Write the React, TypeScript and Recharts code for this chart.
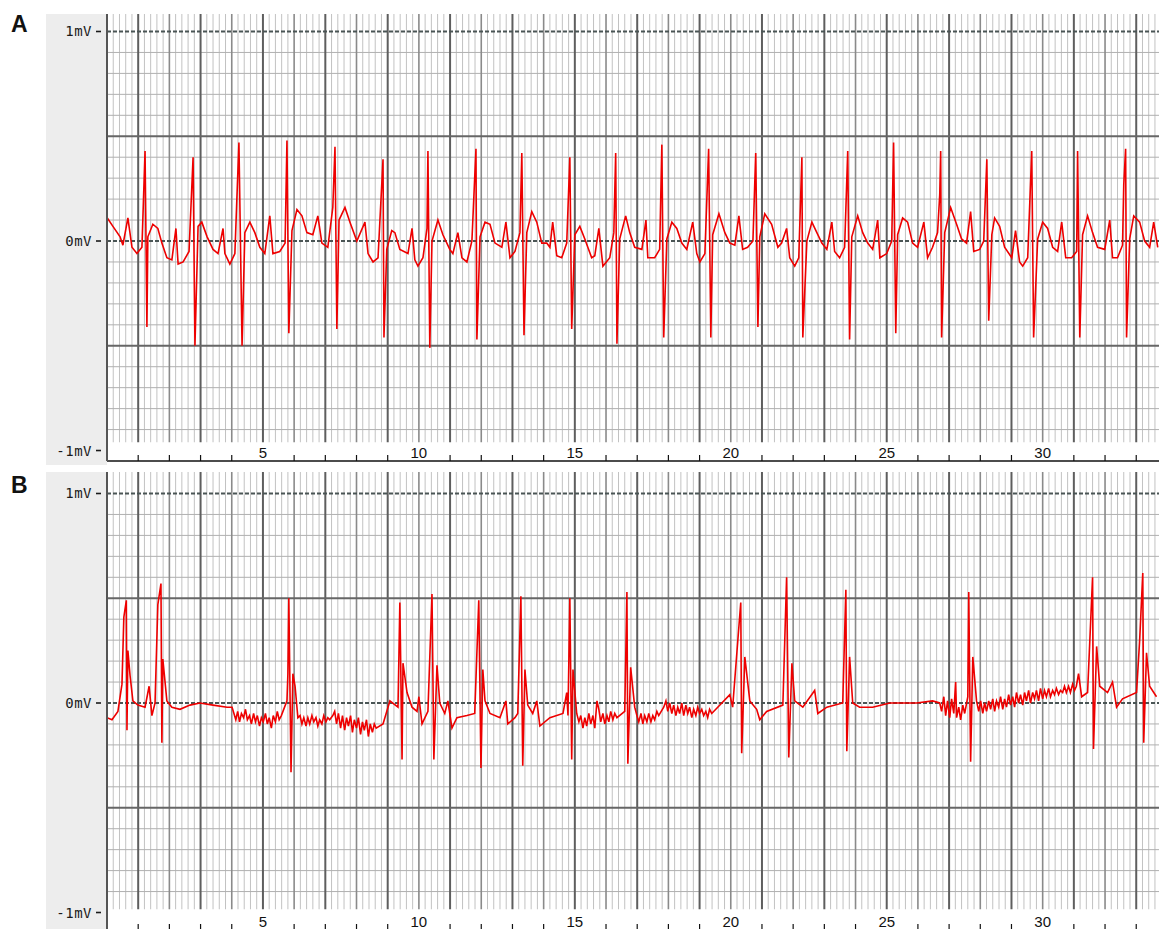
import { LineChart, Line, XAxis, YAxis, CartesianGrid, ReferenceArea } from 'recharts';

// time (s) and amplitude (mV)
const ecgA: [number, number][] = [
  [0.01, 0.11], [0.19, 0.07], [0.42, 0.02], [0.51, -0.02], [0.67, 0.11], [0.8, -0.03], [0.96, -0.06], [1.12, -0.03],
  [1.22, 0.43], [1.28, -0.41], [1.31, 0.02], [1.47, 0.08], [1.63, 0.06], [1.76, -0.01], [1.92, -0.08], [2.08, -0.09],
  [2.21, 0.06], [2.28, -0.11], [2.44, -0.1], [2.63, -0.05], [2.76, 0.4], [2.82, -0.5], [2.92, 0.07], [3.04, 0.09],
  [3.21, 0.02], [3.4, -0.04], [3.56, -0.06], [3.72, 0.06], [3.78, -0.06], [3.94, -0.11], [4.1, -0.06], [4.23, 0.47],
  [4.33, -0.5], [4.42, 0.04], [4.58, 0.09], [4.74, 0.04], [4.9, -0.03], [5.06, -0.06], [5.22, 0.12], [5.32, -0.06],
  [5.54, -0.05], [5.71, -0.01], [5.77, 0.48], [5.83, -0.44], [5.93, 0.05], [6.09, 0.15], [6.25, 0.12], [6.41, 0.04],
  [6.6, 0.03], [6.76, 0.12], [6.89, -0.01], [7.08, -0.03], [7.24, 0.16], [7.31, 0.45], [7.37, -0.42], [7.44, 0.1],
  [7.63, 0.16], [7.79, 0.09], [8.01, 0.0], [8.27, 0.09], [8.37, -0.06], [8.53, -0.1], [8.69, -0.08], [8.85, 0.39],
  [8.88, -0.46], [8.97, -0.04], [9.13, 0.05], [9.23, 0.04], [9.39, -0.04], [9.65, -0.06], [9.78, 0.06], [9.87, -0.09],
  [9.97, -0.12], [10.13, -0.08], [10.26, 0.06], [10.29, 0.43], [10.35, -0.51], [10.42, 0.0], [10.61, 0.1], [10.77, 0.03],
  [10.99, -0.04], [11.09, -0.06], [11.25, 0.04], [11.38, -0.08], [11.54, -0.1], [11.7, 0.0], [11.83, 0.44], [11.86, -0.47],
  [11.96, 0.02], [12.12, 0.09], [12.28, 0.08], [12.44, -0.01], [12.66, -0.03], [12.79, 0.09], [12.92, -0.08], [13.08, -0.05],
  [13.24, 0.04], [13.3, 0.42], [13.37, -0.45], [13.46, 0.04], [13.62, 0.14], [13.78, 0.09], [13.94, -0.01], [14.1, -0.01],
  [14.2, -0.03], [14.29, 0.09], [14.42, -0.07], [14.58, -0.08], [14.74, -0.01], [14.84, 0.4], [14.9, -0.42], [15.0, 0.03],
  [15.16, 0.07], [15.32, 0.01], [15.54, -0.08], [15.64, -0.07], [15.77, 0.06], [15.9, -0.12], [16.12, -0.08], [16.25, 0.04],
  [16.31, 0.42], [16.35, -0.49], [16.44, 0.01], [16.63, 0.12], [16.76, 0.04], [16.92, -0.03], [17.15, -0.04], [17.28, 0.1],
  [17.34, -0.08], [17.56, -0.08], [17.72, -0.04], [17.79, 0.46], [17.85, -0.46], [17.95, 0.01], [18.11, 0.09], [18.27, 0.06],
  [18.43, -0.01], [18.59, -0.04], [18.78, 0.09], [18.91, -0.06], [19.01, -0.1], [19.17, -0.06], [19.29, 0.44], [19.36, -0.46],
  [19.42, 0.03], [19.62, 0.13], [19.81, 0.04], [19.97, -0.01], [20.13, -0.02], [20.26, 0.12], [20.38, -0.04], [20.54, -0.03],
  [20.71, 0.0], [20.8, 0.42], [20.87, -0.41], [20.93, 0.02], [21.09, 0.13], [21.31, 0.08], [21.51, -0.03], [21.63, -0.01],
  [21.79, 0.06], [21.89, -0.08], [22.05, -0.12], [22.18, -0.08], [22.28, 0.4], [22.31, -0.46], [22.44, 0.0], [22.6, 0.09],
  [22.76, 0.04], [22.92, -0.01], [23.08, -0.04], [23.24, 0.09], [23.33, -0.05], [23.49, -0.08], [23.65, -0.03], [23.75, 0.43],
  [23.81, -0.47], [23.88, 0.02], [24.07, 0.12], [24.23, 0.04], [24.39, -0.01], [24.55, -0.04], [24.71, 0.1], [24.78, -0.08],
  [25.0, -0.06], [25.16, 0.0], [25.22, 0.47], [25.29, -0.44], [25.35, 0.03], [25.51, 0.11], [25.67, 0.09], [25.83, -0.01],
  [25.99, -0.03], [26.19, 0.09], [26.31, -0.08], [26.47, -0.03], [26.63, 0.04], [26.7, 0.22], [26.73, 0.43], [26.76, -0.46],
  [26.86, 0.04], [27.05, 0.16], [27.24, 0.08], [27.4, 0.01], [27.56, -0.01], [27.69, 0.14], [27.79, -0.05], [27.98, -0.04],
  [28.11, 0.0], [28.21, 0.39], [28.27, -0.38], [28.37, 0.03], [28.46, 0.11], [28.62, 0.07], [28.78, -0.03], [29.01, -0.08],
  [29.13, 0.05], [29.26, -0.1], [29.36, -0.12], [29.52, -0.08], [29.65, 0.43], [29.71, -0.46], [29.84, 0.01], [30.0, 0.09],
  [30.16, 0.06], [30.32, -0.03], [30.48, -0.05], [30.61, 0.09], [30.74, -0.08], [30.93, -0.08], [31.09, -0.05], [31.12, 0.43],
  [31.19, -0.46], [31.28, 0.03], [31.44, 0.12], [31.6, 0.04], [31.76, -0.03], [31.99, -0.04], [32.15, 0.1], [32.24, -0.08],
  [32.4, -0.08], [32.56, -0.02], [32.6, 0.27], [32.66, 0.44], [32.69, -0.46], [32.79, 0.01], [32.92, 0.12], [33.11, 0.09],
  [33.27, 0.0], [33.43, -0.03], [33.56, 0.09], [33.69, -0.03],
];

const ecgB: [number, number][] = [
  [0.0, -0.07], [0.16, -0.08], [0.35, -0.04], [0.48, 0.09], [0.54, 0.41], [0.62, 0.49], [0.64, -0.13], [0.67, 0.25],
  [0.74, 0.13], [0.83, 0.01], [0.99, -0.01], [1.22, -0.02], [1.35, 0.08], [1.44, -0.06], [1.54, 0.0], [1.63, 0.47],
  [1.73, 0.57], [1.76, -0.19], [1.79, 0.21], [1.92, 0.01], [2.08, -0.02], [2.34, -0.03], [2.66, -0.01], [2.98, 0.0],
  [3.4, -0.01], [3.85, -0.02], [4.01, -0.02],
  [4.07, -0.05], [4.13, -0.08], [4.19, -0.04], [4.25, -0.09], [4.31, -0.05], [4.38, -0.07], [4.44, -0.03], [4.5, -0.08],
  [4.57, -0.06], [4.63, -0.1], [4.7, -0.05], [4.76, -0.09], [4.82, -0.06], [4.89, -0.11], [4.95, -0.07], [5.01, -0.09],
  [5.08, -0.05], [5.14, -0.1], [5.2, -0.07], [5.27, -0.12], [5.33, -0.06], [5.4, -0.09], [5.46, -0.04], [5.52, -0.08],
  [5.59, -0.06],
  [5.77, 0.01], [5.8, 0.14], [5.83, 0.5], [5.9, -0.33], [5.96, 0.14], [6.03, 0.08], [6.12, -0.07],
  [6.19, -0.06], [6.25, -0.1], [6.31, -0.07], [6.38, -0.11], [6.44, -0.07], [6.5, -0.1], [6.57, -0.06], [6.63, -0.09],
  [6.7, -0.07], [6.76, -0.11], [6.82, -0.08], [6.89, -0.1], [6.95, -0.06], [7.02, -0.09], [7.08, -0.07], [7.14, -0.08],
  [7.24, -0.06],
  [7.3, -0.04], [7.36, -0.1], [7.42, -0.05], [7.49, -0.12], [7.55, -0.06], [7.62, -0.13], [7.68, -0.07], [7.74, -0.11],
  [7.81, -0.06], [7.87, -0.14], [7.93, -0.08], [8.0, -0.12], [8.06, -0.07], [8.13, -0.15], [8.19, -0.09], [8.25, -0.13],
  [8.32, -0.08], [8.38, -0.16], [8.44, -0.1], [8.51, -0.14], [8.57, -0.1], [8.63, -0.12],
  [8.85, -0.1], [9.01, -0.02], [9.07, 0.01], [9.33, -0.02], [9.39, 0.48], [9.46, -0.27], [9.49, 0.19], [9.62, 0.05],
  [9.78, -0.02], [9.94, -0.04], [10.0, 0.03], [10.1, -0.1], [10.29, -0.04], [10.42, 0.52], [10.48, -0.27], [10.58, 0.18],
  [10.67, 0.0], [10.83, -0.05], [10.93, 0.01], [11.06, -0.12], [11.22, -0.07], [11.54, -0.06], [11.79, -0.05], [11.92, 0.49],
  [11.99, -0.31], [12.05, 0.16], [12.12, 0.01], [12.28, -0.05], [12.6, -0.07], [12.79, 0.01], [12.85, -0.1], [13.08, -0.07],
  [13.17, -0.05], [13.27, 0.51], [13.33, -0.3], [13.4, 0.16], [13.49, -0.01], [13.65, -0.05], [13.78, 0.01], [13.88, -0.11],
  [14.2, -0.07], [14.62, -0.05], [14.74, 0.05], [14.78, -0.06], [14.84, 0.5], [14.9, -0.27], [14.94, 0.16], [15.06, -0.05],
  [15.13, -0.09], [15.19, -0.06], [15.26, -0.12], [15.32, -0.07], [15.38, -0.11], [15.45, -0.05], [15.51, -0.1], [15.58, -0.06],
  [15.64, -0.12], [15.71, 0.01], [15.77, -0.03], [15.83, -0.09], [15.9, -0.05], [15.96, -0.1], [16.03, -0.06], [16.09, -0.09],
  [16.15, -0.04], [16.22, -0.08], [16.28, -0.05], [16.35, -0.07],
  [16.6, -0.04], [16.67, 0.53], [16.7, -0.29], [16.79, 0.17], [16.92, -0.02],
  [16.99, -0.06], [17.05, -0.09], [17.12, -0.05], [17.18, -0.1], [17.24, -0.06], [17.31, -0.09], [17.37, -0.05], [17.44, -0.09],
  [17.5, -0.06], [17.56, -0.08], [17.63, -0.04], [17.69, -0.06], [17.85, -0.02],
  [17.92, 0.01], [17.98, -0.04], [18.04, 0.0], [18.11, -0.05], [18.17, -0.01], [18.24, -0.06], [18.3, -0.02], [18.36, -0.05],
  [18.43, 0.0], [18.49, -0.06], [18.56, -0.01], [18.62, -0.05], [18.68, -0.02], [18.75, -0.07], [18.81, -0.03], [18.88, -0.06],
  [18.94, -0.02], [19.0, -0.05], [19.07, -0.03], [19.13, -0.06], [19.2, -0.04], [19.26, -0.07], [19.32, -0.03], [19.39, -0.05],
  [19.97, 0.04], [20.06, -0.02], [20.32, 0.48], [20.35, -0.24], [20.45, 0.22], [20.61, 0.01], [20.83, -0.03], [20.93, -0.08],
  [21.15, -0.04], [21.67, -0.01], [21.79, 0.6], [21.86, -0.26], [21.96, 0.19], [22.05, 0.01], [22.31, -0.02], [22.69, 0.06],
  [22.79, -0.05], [23.08, -0.02], [23.59, 0.0], [23.69, 0.54], [23.72, -0.23], [23.81, 0.22], [23.91, 0.0], [24.13, -0.02],
  [24.55, -0.02], [25.1, 0.0], [25.96, 0.0], [26.47, 0.01], [26.7, 0.0],
  [26.76, -0.04], [26.83, 0.03], [26.89, -0.06], [26.95, 0.01], [27.02, -0.07], [27.08, 0.02], [27.15, -0.05], [27.21, 0.1],
  [27.24, -0.07], [27.31, -0.02], [27.37, -0.08], [27.44, -0.01], [27.5, -0.05],
  [27.6, 0.03], [27.63, 0.53], [27.69, -0.28], [27.76, 0.22], [27.88, 0.01],
  [27.95, -0.04], [28.01, 0.01], [28.08, -0.05], [28.14, 0.0], [28.2, -0.04], [28.27, 0.01], [28.33, -0.03], [28.4, 0.02],
  [28.46, -0.04], [28.52, 0.01], [28.59, -0.02], [28.65, 0.03], [28.72, -0.03], [28.78, 0.02], [28.84, -0.02], [28.91, 0.04],
  [28.97, -0.01], [29.04, 0.03], [29.1, -0.02], [29.16, 0.05], [29.23, 0.0], [29.29, 0.04], [29.36, -0.01], [29.42, 0.05],
  [29.48, 0.01], [29.55, 0.06], [29.61, 0.0], [29.68, 0.05], [29.74, 0.02], [29.8, 0.06], [29.87, 0.01], [29.93, 0.07],
  [30.0, 0.02], [30.06, 0.06], [30.12, 0.03], [30.19, 0.07], [30.25, 0.03], [30.32, 0.06], [30.38, 0.04], [30.44, 0.07],
  [30.51, 0.04], [30.57, 0.06], [30.64, 0.05], [30.7, 0.08], [30.76, 0.05], [30.83, 0.08], [30.89, 0.05], [30.96, 0.09],
  [31.02, 0.06], [31.08, 0.08],
  [31.15, 0.14], [31.25, 0.03], [31.44, 0.05], [31.6, 0.6], [31.63, -0.22], [31.73, 0.27], [31.83, 0.08], [32.08, 0.05],
  [32.24, 0.1], [32.37, -0.02], [32.56, 0.02], [33.01, 0.05], [33.11, 0.3], [33.21, 0.62], [33.24, -0.19], [33.33, 0.24],
  [33.43, 0.08], [33.65, 0.03],
];

const voltTicks = [-1, 0, 1];
const secondTicks = [1, 2, 3, 4, 5, 6, 7, 8, 9, 10, 11, 12, 13, 14, 15, 16, 17, 18, 19, 20, 21, 22, 23, 24, 25, 26, 27, 28, 29, 30, 31, 32, 33];
const labelledSeconds = [5, 10, 15, 20, 25, 30];
const T_MAX = 33.73;

// grid levels
const minorX = Array.from({ length: 169 }, (_, i) => Math.round(i * 2) / 10).filter((v) => v % 1 !== 0);
const evenX = secondTicks.filter((v) => v % 2 === 0);
const oddX = secondTicks.filter((v) => v % 2 === 1);
const minorY = Array.from({ length: 21 }, (_, i) => Math.round((i - 10)) / 10).filter((v) => Math.abs(v * 2) % 1 !== 0);
const halfY = [-0.5, 0.5];
const labelY = [-1, 0, 1];

const VoltTick = (props: any) => {
  const { x, y, payload } = props;
  return (
    <g>
      <text x={x - 15} y={y + 5} textAnchor="end" fontFamily="DejaVu Sans Mono" fontSize={14} fill="#1a1a1a" letterSpacing={0.5}>
        {`${payload.value}mV`}
      </text>
      <line x1={x - 11} x2={x - 6} y1={y} y2={y} stroke="#1a1a1a" strokeWidth={1.6} />
    </g>
  );
};

const SecondTick = (props: any) => {
  const { x, y, payload } = props;
  if (labelledSeconds.includes(payload.value)) {
    return (
      <text x={x} y={y - 3} textAnchor="middle" fontFamily="Liberation Sans" fontSize={15} fill="#111">
        {payload.value}
      </text>
    );
  }
  return <line x1={x} x2={x} y1={y - 6} y2={y} stroke="#111" strokeWidth={1.2} />;
};

interface PanelProps {
  trace: [number, number][];
  top: number;
  height: number;
  axisHeight: number;
  yMin: number;
  yMax: number;
  stripTop: number;
}

function EcgPanel({ trace, top, height, axisHeight, yMin, yMax, stripTop }: PanelProps) {
  const data = trace.map(([t, v]) => ({ t, v }));
  return (
    <div style={{ position: 'absolute', left: 0, top }}>
      <LineChart width={1159} height={height} data={data} margin={{ top: 14, right: 0, bottom: 0, left: 0 }}>
        <CartesianGrid horizontal={false} verticalValues={minorX} stroke="#c2c2c2" strokeWidth={1} />
        <CartesianGrid vertical={false} horizontalValues={minorY} stroke="#b0b0b0" strokeWidth={1} />
        <CartesianGrid horizontal={false} verticalValues={evenX} stroke="#8a8a8a" strokeWidth={1.6} />
        <CartesianGrid horizontal={false} verticalValues={oddX} stroke="#5e5e5e" strokeWidth={2} />
        <CartesianGrid vertical={false} horizontalValues={halfY} stroke="#666" strokeWidth={2} />
        <CartesianGrid vertical={false} horizontalValues={labelY} stroke="#4a5555" strokeWidth={2} strokeDasharray="4 2" />
        <ReferenceArea y1={yMin} y2={stripTop} fill="#fff" fillOpacity={1} stroke="none" />
        <XAxis
          dataKey="t"
          type="number"
          domain={[0, T_MAX]}
          ticks={secondTicks}
          allowDataOverflow
          height={axisHeight}
          tickLine={false}
          tickSize={0}
          tickMargin={0}
          tick={<SecondTick />}
          axisLine={{ stroke: '#111', strokeWidth: 1.5 }}
          interval={0}
        />
        <YAxis
          type="number"
          domain={[yMin, yMax]}
          ticks={voltTicks}
          allowDataOverflow
          width={107}
          tickLine={false}
          tickSize={0}
          tickMargin={0}
          tick={<VoltTick />}
          axisLine={{ stroke: '#555', strokeWidth: 2 }}
          interval={0}
        />
        <Line
          type="linear"
          dataKey="v"
          stroke="#ee0000"
          strokeWidth={1.6}
          dot={false}
          isAnimationActive={false}
        />
      </LineChart>
    </div>
  );
}

export default function App() {
  return (
    <div style={{ position: 'fixed', left: 0, top: 0, width: 1159, height: 929, overflow: 'hidden', background: '#fff' }}>
      <div style={{ position: 'absolute', left: 46, top: 14, width: 61, height: 451, background: '#ededed' }} />
      <div style={{ position: 'absolute', left: 46, top: 472, width: 61, height: 457, background: '#ededed' }} />
      <EcgPanel trace={ecgA} top={0} height={470} axisHeight={9} yMin={-1.05} yMax={1.0835} stripTop={-0.96} />
      <EcgPanel trace={ecgB} top={458} height={480} axisHeight={8} yMin={-1.0835} yMax={1.1026} stripTop={-0.985} />
      <svg style={{ position: 'absolute', left: 0, top: 0 }} width={40} height={520}>
        <text x={11} y={32} fontFamily="Liberation Sans" fontWeight="bold" fontSize={23} fill="#111">A</text>
        <text x={11} y={493} fontFamily="Liberation Sans" fontWeight="bold" fontSize={23} fill="#111">B</text>
      </svg>
    </div>
  );
}
